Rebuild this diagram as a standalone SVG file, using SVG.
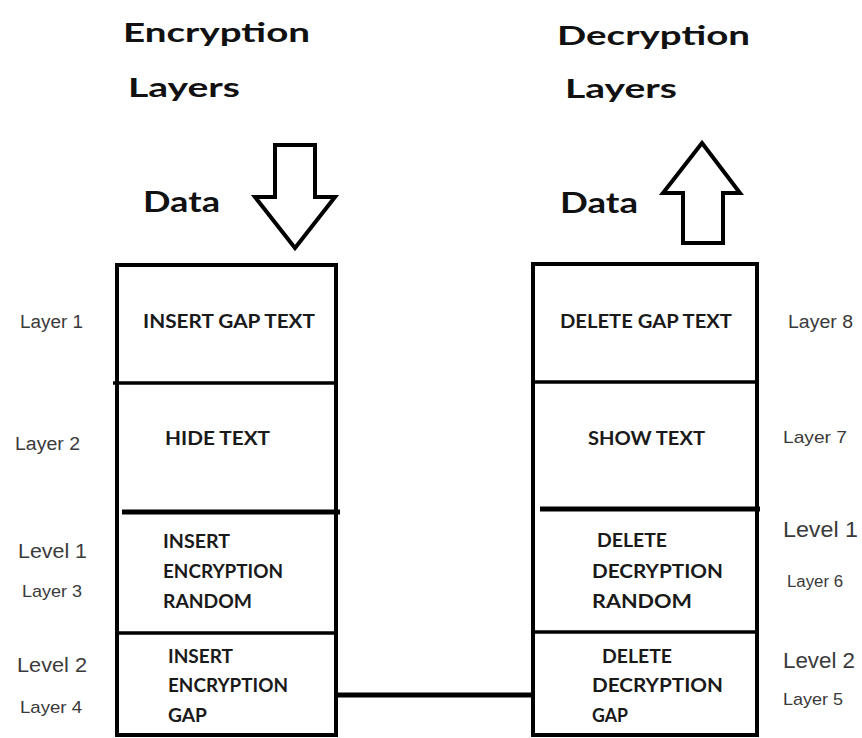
<svg xmlns="http://www.w3.org/2000/svg" width="862" height="738" viewBox="0 0 862 738">
<style>
.title{font-family:Lato,"Open Sans","Liberation Sans",sans-serif;font-weight:bold;fill:#111}
.bt{font-family:Lato,"Open Sans","Liberation Sans",sans-serif;font-weight:bold;font-size:19px;fill:#1a1a1a}
.side{font-family:"Liberation Sans",Arial,sans-serif;fill:#3a3a3a}
.box{fill:#fff;stroke:#000;stroke-width:4}
.div{stroke:#000;stroke-width:3.5;fill:none}
.thick{stroke:#000;stroke-width:5;fill:none}
.arrow{fill:#fff;stroke:#000;stroke-width:4;stroke-linejoin:miter}
</style>
<rect width="862" height="738" fill="#fff"/>

<g id="titles">
<text class="title" x="123" y="42" font-size="27" textLength="187" lengthAdjust="spacingAndGlyphs">Encryption</text>
<text class="title" x="128" y="97" font-size="27" textLength="112" lengthAdjust="spacingAndGlyphs">Layers</text>
<text class="title" x="143" y="212" font-size="28" textLength="77" lengthAdjust="spacingAndGlyphs">Data</text>
<text class="title" x="557" y="45" font-size="27" textLength="193" lengthAdjust="spacingAndGlyphs">Decryption</text>
<text class="title" x="565" y="98" font-size="27" textLength="112" lengthAdjust="spacingAndGlyphs">Layers</text>
<text class="title" x="560" y="213" font-size="28" textLength="78" lengthAdjust="spacingAndGlyphs">Data</text>
</g>

<g id="arrow-in">
<polygon class="arrow" points="275,145 315,145 315,197 335,197 295,248 255,197 275,197"/>
</g>
<g id="arrow-out">
<polygon class="arrow" points="702,143 740,193 723,193 723,243 683,243 683,193 663,193"/>
</g>

<g id="encryption-stack">
<rect class="box" x="117" y="265" width="219" height="470"/>
<line class="div" x1="113" y1="383" x2="336" y2="383"/>
<line class="thick" x1="122" y1="512" x2="340" y2="512"/>
<line class="div" x1="117" y1="633" x2="336" y2="633"/>
</g>

<g id="layer1">
<text class="bt" x="143" y="328" textLength="172" lengthAdjust="spacingAndGlyphs">INSERT GAP TEXT</text>
<text class="side" x="20" y="328" font-size="18" textLength="63" lengthAdjust="spacingAndGlyphs">Layer 1</text>
</g>
<g id="layer2">
<text class="bt" x="165" y="445" textLength="105" lengthAdjust="spacingAndGlyphs">HIDE  TEXT</text>
<text class="side" x="15" y="450" font-size="18" textLength="65" lengthAdjust="spacingAndGlyphs">Layer 2</text>
</g>
<g id="layer3">
<text class="bt" x="163" y="548" textLength="67" lengthAdjust="spacingAndGlyphs">INSERT</text>
<text class="bt" x="163" y="578" textLength="120" lengthAdjust="spacingAndGlyphs">ENCRYPTION</text>
<text class="bt" x="163" y="608" textLength="89" lengthAdjust="spacingAndGlyphs">RANDOM</text>
<text class="side" x="18" y="558" font-size="21" textLength="69" lengthAdjust="spacingAndGlyphs">Level 1</text>
<text class="side" x="22" y="597" font-size="17" textLength="60" lengthAdjust="spacingAndGlyphs">Layer 3</text>
</g>
<g id="layer4">
<text class="bt" x="168" y="663" textLength="65" lengthAdjust="spacingAndGlyphs">INSERT</text>
<text class="bt" x="168" y="692" textLength="120" lengthAdjust="spacingAndGlyphs">ENCRYPTION</text>
<text class="bt" x="168" y="722" textLength="39" lengthAdjust="spacingAndGlyphs">GAP</text>
<text class="side" x="17" y="672" font-size="21" textLength="70" lengthAdjust="spacingAndGlyphs">Level 2</text>
<text class="side" x="20" y="713" font-size="17" textLength="62" lengthAdjust="spacingAndGlyphs">Layer 4</text>
</g>

<g id="decryption-stack">
<rect class="box" x="533" y="264" width="224" height="471"/>
<line class="div" x1="531" y1="382" x2="757" y2="382"/>
<line class="thick" x1="540" y1="509" x2="760" y2="509"/>
<line class="div" x1="533" y1="632" x2="757" y2="632"/>
</g>

<g id="layer8">
<text class="bt" x="560" y="328" textLength="172" lengthAdjust="spacingAndGlyphs">DELETE GAP TEXT</text>
<text class="side" x="788" y="328" font-size="18" textLength="65" lengthAdjust="spacingAndGlyphs">Layer 8</text>
</g>
<g id="layer7">
<text class="bt" x="588" y="445" textLength="117" lengthAdjust="spacingAndGlyphs">SHOW TEXT</text>
<text class="side" x="783" y="443" font-size="17" textLength="64" lengthAdjust="spacingAndGlyphs">Layer 7</text>
</g>
<g id="layer6">
<text class="bt" x="597" y="547" textLength="70" lengthAdjust="spacingAndGlyphs">DELETE</text>
<text class="bt" x="592" y="578" textLength="131" lengthAdjust="spacingAndGlyphs">DECRYPTION</text>
<text class="bt" x="592" y="608" textLength="100" lengthAdjust="spacingAndGlyphs">RANDOM</text>
<text class="side" x="783" y="537" font-size="22" textLength="75" lengthAdjust="spacingAndGlyphs">Level 1</text>
<text class="side" x="787" y="587" font-size="16" textLength="56" lengthAdjust="spacingAndGlyphs">Layer 6</text>
</g>
<g id="layer5">
<text class="bt" x="602" y="663" textLength="70" lengthAdjust="spacingAndGlyphs">DELETE</text>
<text class="bt" x="592" y="692" textLength="131" lengthAdjust="spacingAndGlyphs">DECRYPTION</text>
<text class="bt" x="592" y="722" textLength="36" lengthAdjust="spacingAndGlyphs">GAP</text>
<text class="side" x="783" y="668" font-size="22" textLength="72" lengthAdjust="spacingAndGlyphs">Level 2</text>
<text class="side" x="783" y="705" font-size="17" textLength="60" lengthAdjust="spacingAndGlyphs">Layer 5</text>
</g>

<g id="connectors">
<line class="thick" x1="336" y1="695" x2="533" y2="695"/>
</g>
</svg>
